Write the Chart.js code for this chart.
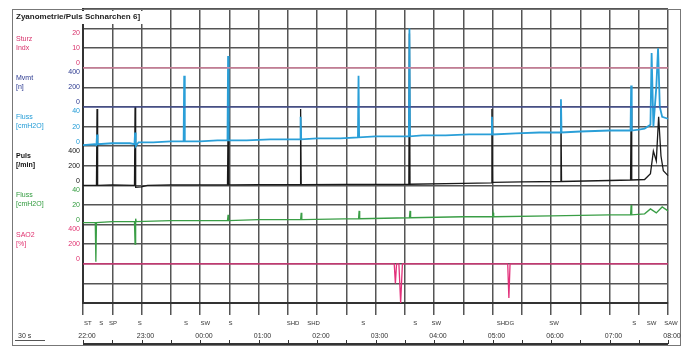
<!DOCTYPE html>
<html>
<head>
<meta charset="utf-8">
<script src="https://cdn.jsdelivr.net/npm/chart.js@4.4.1/dist/chart.umd.min.js"></script>
<style>
  html, body { margin: 0; padding: 0; background: #fff; }
  #wrap { width: 690px; height: 347px; }
</style>
</head>
<body>
<div id="wrap"><canvas id="poly"></canvas></div>
<script>
// time axis: hours after 22:00, one grid line every half hour
var timeLabels = ['22:00', '23:00', '00:00', '01:00', '02:00', '03:00', '04:00', '05:00', '06:00', '07:00', '08:00'];

// channel captions, tick values and colours (top to bottom)
var channelNames = [['Sturz', 'Indx'], ['Mvmt', '[n]'], ['Fluss', '[cmH2O]'], ['Puls', '[/min]'], ['Fluss', '[cmH2O]'], ['SAO2', '[%]']];
var channelTicks = [[20, 10, 0], [400, 200, 0], [40, 20, 0], [400, 200, 0], [40, 20, 0], [400, 200, 0]];
var channelColors = ['#d8306a', '#2b3990', '#1e9ad6', '#111111', '#2f9a3c', '#e0306e'];

// traces as [hours, value]
var sturz = [[0, 0], [10, 0]];
var mvmt = [[0, 0], [10, 0]];
var flussOben = [[0, 1], [0.2, 2], [0.23, 1], [0.24, 12], [0.25, 2], [0.5, 3], [0.8, 3], [0.88, 2], [0.89, 14], [0.9, 0], [0.95, 4],
  [1.2, 4], [1.5, 5], [1.72, 5], [1.73, 72], [1.74, 5], [2.0, 5], [2.3, 6], [2.47, 6], [2.48, 92], [2.49, 6], [2.8, 6], [3.2, 7],
  [3.5, 7], [3.71, 7], [3.72, 30], [3.73, 7], [4.0, 8], [4.4, 8], [4.7, 9], [4.71, 72], [4.72, 9], [5.0, 10], [5.3, 10], [5.57, 10],
  [5.58, 120], [5.59, 10], [5.8, 11], [6.2, 11], [6.6, 12], [6.98, 12], [6.99, 30], [7.0, 12], [7.4, 13], [7.8, 14], [8.16, 14],
  [8.17, 48], [8.18, 14], [8.5, 15], [9.0, 16], [9.36, 16], [9.37, 62], [9.38, 16], [9.5, 17], [9.6, 18], [9.7, 22], [9.72, 95],
  [9.75, 20], [9.8, 60], [9.83, 100], [9.86, 40], [9.9, 30], [10, 28]];
var puls = [[0, 0], [0.23, 0], [0.24, 780], [0.25, 0], [0.5, 5], [0.88, 0], [0.89, 800], [0.9, -20], [1.0, -15], [1.1, 0], [1.5, 5],
  [2.47, 5], [2.48, 650], [2.49, 5], [3.0, 8], [3.71, 8], [3.72, 780], [3.73, 8], [4.5, 10], [5.57, 12], [5.58, 1550], [5.59, 12],
  [6.5, 20], [6.98, 25], [6.99, 780], [7.0, 30], [7.5, 35], [8.16, 40], [8.17, 780], [8.18, 40], [9.0, 50], [9.36, 55], [9.37, 800],
  [9.38, 55], [9.6, 60], [9.7, 120], [9.75, 350], [9.8, 250], [9.84, 700], [9.88, 300], [9.92, 150], [10, 100]];
var flussUnten = [[0, 2], [0.21, 2], [0.22, -38], [0.23, 2], [0.5, 3], [0.88, 3], [0.89, -20], [0.9, 6], [0.91, 3], [1.5, 4],
  [2.47, 4], [2.48, 10], [2.49, 4], [3.0, 5], [3.72, 5], [3.73, 12], [3.74, 5], [4.71, 6], [4.72, 14], [4.73, 6], [5.58, 7],
  [5.59, 14], [5.6, 7], [6.5, 8], [7.0, 8], [7.01, 12], [7.02, 8], [8.0, 9], [9.0, 10], [9.36, 10], [9.37, 20], [9.38, 10],
  [9.6, 11], [9.7, 16], [9.8, 12], [9.9, 18], [10, 14]];
var sao = [[0, 0], [5.32, 0], [5.34, -200], [5.36, 0], [5.40, 0], [5.43, -400], [5.46, 0], [7.26, 0], [7.28, -350], [7.30, 0], [10, 0]];

// event markers under the grid
var eventTimes = [0.03, 0.26, 0.46, 0.92, 1.71, 2.04, 2.47, 3.54, 3.89, 4.74, 5.63, 5.99, 7.17, 8.0, 9.37, 9.67, 10.0];
var eventLabels = ['ST', 'S', 'SP', 'S', 'S', 'SW', 'S', 'SHD', 'SHD', 'S', 'S', 'SW', 'SHDG', 'SW', 'S', 'SW', 'SAW'];

var traces = [sturz, mvmt, flussOben, puls, flussUnten, sao];
var traceColors = ['#e78aa9', '#3a4aa8', '#2a9fd8', '#1a1a1a', '#3a9e46', '#e2307a'];
// grid row of each channel's zero line and value per grid row
var zeroRow = [12, 10, 8, 6, 4, 2];
var perRow = [10, 200, 20, 200, 20, 200];

function pts(arr) {
  return arr.map(function (p) { return { x: p[0], y: p[1] }; });
}

var scales = {
  x: {
    type: 'linear', min: 0, max: 10,
    grid: { color: '#555', lineWidth: 1.5, tickLength: 12, tickColor: '#555' },
    border: { color: '#333', width: 2 },
    ticks: { display: false, stepSize: 0.5 }
  },
  grid: {
    position: 'left', min: 0, max: 15,
    grid: { color: '#555', lineWidth: 1.5, drawTicks: false },
    border: { color: '#333', width: 2 },
    ticks: { display: false, stepSize: 1 }
  }
};
var datasets = [];
traces.forEach(function (t, i) {
  var id = 'ch' + i;
  scales[id] = { display: false, min: -zeroRow[i] * perRow[i], max: (15 - zeroRow[i]) * perRow[i] };
  datasets.push({
    data: pts(t), yAxisID: id, borderColor: traceColors[i],
    borderWidth: i === 2 ? 1.8 : (i === 1 ? 1 : 1.3), pointRadius: 0, tension: 0, clip: false
  });
});

var labelsPlugin = {
  id: 'labels',
  afterDraw: function (chart) {
    var ctx = chart.ctx, a = chart.chartArea;
    ctx.save();
    // outer frame
    ctx.strokeStyle = '#777';
    ctx.lineWidth = 1;
    ctx.strokeRect(12.5, a.top + 0.5, 668, 345 - a.top);
    // title on white
    ctx.fillStyle = '#fff';
    ctx.fillRect(14, a.top + 2, 132, 13);
    ctx.fillStyle = '#222';
    ctx.font = 'bold 8px "Liberation Sans"';
    ctx.textBaseline = 'middle';
    ctx.textAlign = 'left';
    ctx.fillText('Zyanometrie/Puls Schnarchen 6]', 16, a.top + 8);
    // channel captions and ticks
    for (var i = 0; i < 6; i++) {
      var s = chart.scales['ch' + i];
      ctx.fillStyle = channelColors[i];
      ctx.textAlign = 'left';
      ctx.font = (i === 3 ? 'bold ' : '') + '7px "Liberation Sans"';
      var topY = s.getPixelForValue(channelTicks[i][0]);
      ctx.fillText(channelNames[i][0], 16, topY + 10);
      ctx.fillText(channelNames[i][1], 16, topY + 19);
      ctx.textAlign = 'right';
      ctx.font = '7px "Liberation Sans"';
      channelTicks[i].forEach(function (v, k) {
        var y = s.getPixelForValue(v);
        ctx.textBaseline = k === 0 ? 'top' : (k === 2 ? 'bottom' : 'middle');
        ctx.fillText(String(v), 80, y + (k === 0 ? 1 : (k === 2 ? -1 : 0)));
      });
      ctx.textBaseline = 'middle';
    }
    var xs = chart.scales.x;
    // event labels
    ctx.fillStyle = '#333';
    ctx.textAlign = 'center';
    ctx.font = '6px "Liberation Sans"';
    eventTimes.forEach(function (t, k) {
      ctx.fillText(eventLabels[k], xs.getPixelForValue(t) + 3, a.bottom + 20);
    });
    // time labels
    ctx.font = '7px "Liberation Sans"';
    timeLabels.forEach(function (lab, k) {
      ctx.fillText(lab, xs.getPixelForValue(k) + 4, 336);
    });
    // scale bar
    ctx.textAlign = 'left';
    ctx.fillText('30 s', 18, 336);
    ctx.strokeStyle = '#555';
    ctx.beginPath();
    ctx.moveTo(15, 340.5); ctx.lineTo(45, 340.5);
    ctx.stroke();
    // bottom ruler
    ctx.lineWidth = 2;
    ctx.strokeStyle = '#333';
    ctx.beginPath();
    ctx.moveTo(a.left, 344); ctx.lineTo(a.right, 344);
    ctx.stroke();
    ctx.lineWidth = 1;
    for (var h = 0; h <= 20; h++) {
      var px = Math.round(xs.getPixelForValue(h / 2)) + 0.5;
      ctx.beginPath();
      ctx.moveTo(px, 340); ctx.lineTo(px, 344);
      ctx.stroke();
    }
    ctx.restore();
  }
};

new Chart(document.getElementById('poly'), {
  type: 'line',
  data: { datasets: datasets },
  options: {
    responsive: true,
    maintainAspectRatio: false,
    animation: false,
    layout: { padding: { left: 83, top: 9, right: 22, bottom: 32 } },
    plugins: { legend: { display: false }, tooltip: { enabled: false } },
    scales: scales
  },
  plugins: [labelsPlugin]
});
</script>
</body>
</html>
